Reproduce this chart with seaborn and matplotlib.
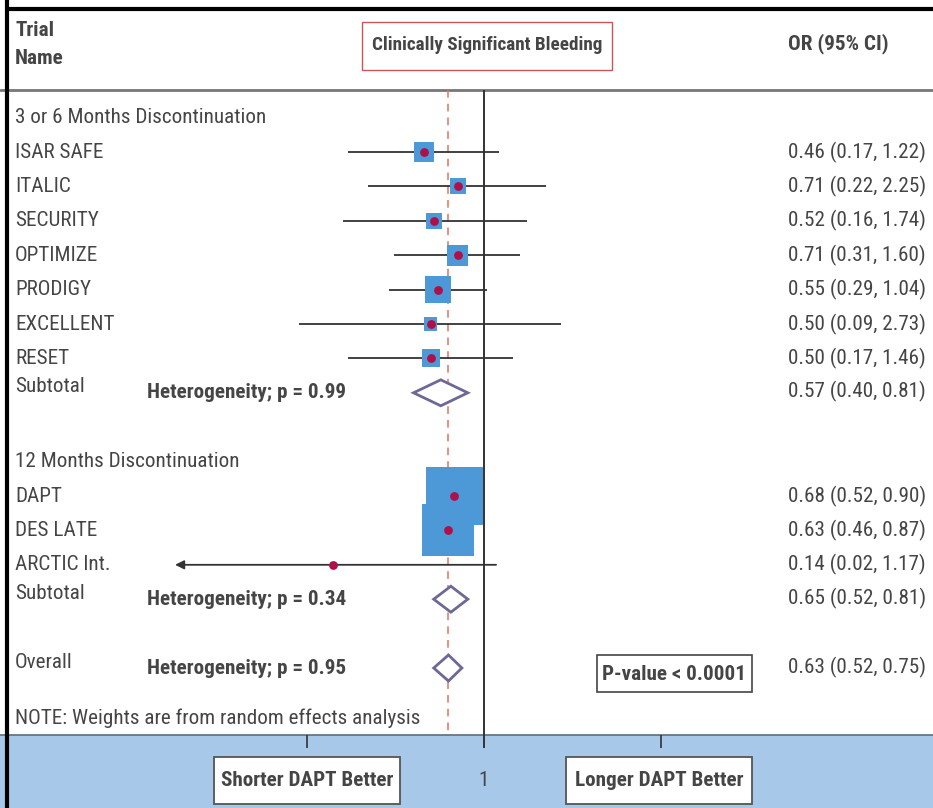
import numpy as np
import pandas as pd
import matplotlib.pyplot as plt
import matplotlib.transforms as mtransforms
from matplotlib import font_manager
from matplotlib.patches import Rectangle
import seaborn as sns

# ---- data ----
studies = ["ISAR SAFE", "ITALIC", "SECURITY", "OPTIMIZE", "PRODIGY", "EXCELLENT", "RESET",
           "DAPT", "DES LATE", "ARCTIC lnt."]
group = ["3 or 6 Months Discontinuation"] * 7 + ["12 Months Discontinuation"] * 3
odds = [0.46, 0.71, 0.52, 0.71, 0.55, 0.50, 0.50, 0.68, 0.63, 0.14]
ci_low = [0.17, 0.22, 0.16, 0.31, 0.29, 0.09, 0.17, 0.52, 0.46, 0.02]
ci_high = [1.22, 2.25, 1.74, 1.60, 1.04, 2.73, 1.46, 0.90, 0.87, 1.17]
weights = [4.0, 2.6, 2.6, 4.5, 7.0, 1.7, 3.3, 33.0, 27.0, 0.4]   # estimated from square sizes

pooled_names = ["Subtotal", "Subtotal", "Overall"]
pooled_or = [0.57, 0.65, 0.63]
pooled_low = [0.40, 0.52, 0.52]
pooled_high = [0.81, 0.81, 0.75]
het_p = ["0.99", "0.34", "0.95"]

# ---- layout (pixel rows) ----
W, H = 933, 808
study_rows = [0, 1, 2, 3, 4, 5, 6, 10, 11, 12]
pooled_rows = [7, 13, 15]
group_rows = [-1, 9]
ROW0, PITCH = 152, 34.4
PX_PER_LN = 76.9
X_ONE = 484          # pixel column of OR = 1
TRUNCATE_BELOW = 0.025   # intervals reaching below this get an arrow
ARROW_TIP = 0.018

def row_y(r):
    return ROW0 + r * PITCH

TEXT = "#454545"
BLUE = "#4D98D6"
DOT = "#B0104A"
DIAMOND = "#6D6896"
BAND = "#A8C8EA"

sns.set_theme(style="white")

# pick a condensed face if one is installed, otherwise a narrow-ish regular one
entries = font_manager.fontManager.ttflist
family, stretch = "Lato", "normal"
found = False
for fam in ["Roboto Condensed", "Open Sans Condensed", "Noto Sans", "Open Sans", "Roboto",
            "Liberation Sans Narrow", "Liberation Sans", "DejaVu Sans"]:
    for e in entries:
        st = str(e.stretch).lower()
        if e.name == fam and ("condensed" in st or "narrow" in st or "condensed" in fam.lower()
                              or "narrow" in fam.lower()):
            family, stretch, found = fam, e.stretch, True
            break
    if found:
        break
if not found and not any(e.name == "Lato" for e in entries):
    family = "Open Sans"
plt.rcParams['font.family'] = [family, 'DejaVu Sans']
plt.rcParams['font.stretch'] = stretch

fig = plt.figure(figsize=(W / 100, H / 100), dpi=100)
ax = fig.add_axes([0, 0, 1, 1])
ax.set_xscale("log")
ax.set_xlim(np.exp(-X_ONE / PX_PER_LN), np.exp((W - X_ONE) / PX_PER_LN))
ax.set_ylim(H, 0)
ax.axis("off")
px = mtransforms.Affine2D().scale(1 / W, -1 / H).translate(0, 1) + fig.transFigure

# font size so the group header spans the same width as in the reference
probe = ax.text(0, 0, "3 or 6 Months Discontinuation", fontsize=16, transform=px)
pw = probe.get_window_extent(fig.canvas.get_renderer()).width
probe.remove()
FS = min(16.5, 16 * 251 / pw)

df = pd.DataFrame({"study": studies, "group": group, "OR": odds, "lo": ci_low,
                   "hi": ci_high, "w": weights,
                   "y": [row_y(r) for r in study_rows]})

# background band and frame
ax.axhspan(735, H, color=BAND, zorder=0)
ax.axhline(735, color="#5d6f80", lw=1.2, zorder=1)
ax.axhline(90, color="#777777", lw=2, zorder=1)
fig.add_artist(plt.Line2D([7, 7], [0, H], transform=px, color="black", lw=3))
fig.add_artist(plt.Line2D([7, W], [9, 9], transform=px, color="black", lw=3))

# reference lines and ticks
ax.vlines(1, 90, 748, color="#333333", lw=1.4, zorder=2)
ax.vlines(pooled_or[2], 90, 735, color="#E0735E", lw=1.1, linestyles=(0, (5, 4)), zorder=2)
ax.vlines([0.1, 10], 735, 748, color="#333333", lw=1.2, zorder=2)

# confidence intervals
inside = df[df["lo"] >= TRUNCATE_BELOW]
ax.hlines(inside["y"], inside["lo"], inside["hi"], color="#333333", lw=1.3, zorder=3)
for _, r in df[df["lo"] < TRUNCATE_BELOW].iterrows():
    ax.annotate("", xy=(ARROW_TIP, r["y"]), xytext=(r["hi"], r["y"]),
                arrowprops=dict(arrowstyle="-|>", color="#333333", lw=1.3,
                                mutation_scale=13, shrinkA=0, shrinkB=0), zorder=3)

# weight squares and point estimates
sns.scatterplot(data=df, x="OR", y="y", size="w", sizes=(0, 51.84 * 40), size_norm=(0, 40),
                marker="s", color=BLUE, linewidth=0, legend=False, ax=ax, zorder=4)
sns.scatterplot(data=df, x="OR", y="y", s=40, color=DOT, linewidth=0, legend=False,
                ax=ax, zorder=5)

# pooled diamonds
for est, lo, hi, r in zip(pooled_or, pooled_low, pooled_high, pooled_rows):
    y = row_y(r)
    ax.fill([lo, est, hi, est, lo], [y, y - 13, y, y + 13, y], facecolor="white",
            edgecolor=DIAMOND, lw=2, zorder=4)

# ---- text columns ----
def label(x, y, s, **kw):
    kw.setdefault("color", TEXT)
    kw.setdefault("fontsize", FS)
    ax.text(x, y, s, transform=px, va="center", **kw)

label(15, 31, "Trial", fontweight="semibold")
label(15, 58, "Name", fontweight="semibold")
label(788, 44, "OR (95% CI)", fontweight="semibold")
ax.add_patch(Rectangle((362, 22), 250, 48, transform=px, fill=False, ec="#CC5555", lw=1))
label(487, 45, "Clinically Significant Bleeding", ha="center", fontweight="semibold",
      fontsize=FS * 0.91)

for g, r in zip(dict.fromkeys(group), group_rows):
    label(15, row_y(r), g)
for _, r in df.iterrows():
    label(15, r["y"], r["study"])
    label(788, r["y"], f"{r['OR']:.2f} ({r['lo']:.2f}, {r['hi']:.2f})")
for name, est, lo, hi, p, r in zip(pooled_names, pooled_or, pooled_low, pooled_high,
                                   het_p, pooled_rows):
    y = row_y(r)
    label(15, y - 6, name)
    label(147, y, f"Heterogeneity; p = {p}", fontweight="semibold")
    label(788, y - 1, f"{est:.2f} ({lo:.2f}, {hi:.2f})")

label(15, 718, "NOTE: Weights are from random effects analysis")

ax.add_patch(Rectangle((597, 655), 155, 37, transform=px, fill=False, ec="#444444", lw=1.2))
label(674, 674, "P-value < 0.0001", ha="center", fontweight="semibold")

for x0, x1, s in [(214, 400, "Shorter DAPT Better"), (566, 752, "Longer DAPT Better")]:
    ax.add_patch(Rectangle((x0, 757), x1 - x0, 47, transform=px, fc="white", ec="#555555",
                           lw=1.3, zorder=5))
    label((x0 + x1) / 2, 781, s, ha="center", fontweight="semibold", zorder=6)
label(X_ONE, 781, "1", ha="center")

fig.savefig("out.png", dpi=100)
plt.close(fig)
